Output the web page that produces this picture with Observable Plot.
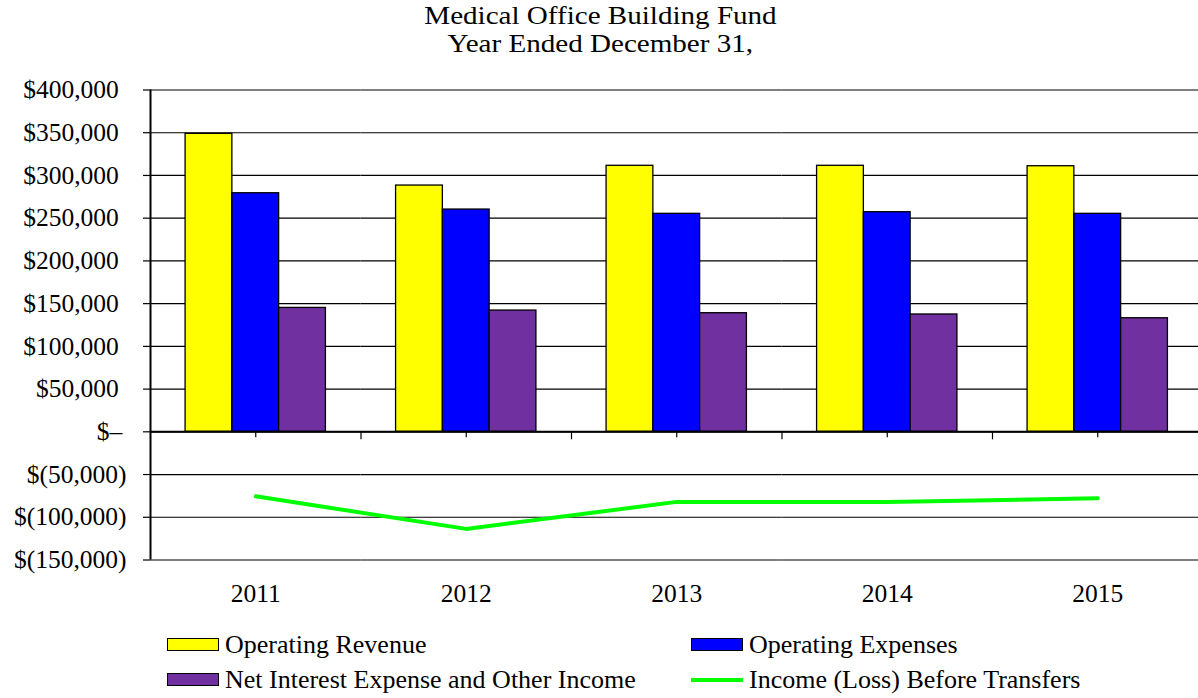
<!DOCTYPE html>
<html>
<head>
<meta charset="utf-8">
<script src="https://cdn.jsdelivr.net/npm/d3@7"></script>
<script src="https://cdn.jsdelivr.net/npm/@observablehq/plot@0.6"></script>
<style>
html, body { margin: 0; padding: 0; background: #fff; overflow: hidden; width: 1198px; height: 698px; }
body { position: relative; font-family: "Liberation Serif", "Times New Roman", serif; color: #000; }
#title { position: absolute; left: 0; top: 2.2px; width: 1200px; text-align: center; font-size: 25px; line-height: 27.8px; }
#title > div > span { display: inline-block; transform: scaleX(1.163); transform-origin: 50% 50%; white-space: nowrap; }
.layer { position: absolute; left: 0; top: 60px; }
.layer svg { max-width: none !important; background: transparent !important; overflow: visible; display: block; font-family: "Liberation Serif", "Times New Roman", serif !important; font-size: 25.5px !important; }
.layer svg text { font-family: "Liberation Serif", "Times New Roman", serif !important; }
#legend { position: absolute; left: 167px; top: 627px; display: grid; grid-template-columns: 524px auto; grid-auto-rows: 35px; font-size: 26px; }
.item { display: flex; align-items: center; line-height: 30px; white-space: nowrap; }
.sw { width: 52px; height: 13px; box-sizing: border-box; border: 1.5px solid #000; margin-right: 6px; flex: none; }
.ln { width: 52px; height: 4px; margin-right: 6px; flex: none; }
</style>
</head>
<body>
<div id="title"></div>
<div class="layer" id="bars"></div>
<div class="layer" id="overlay"></div>
<div id="legend"></div>
<script>
// ---- data ----
const titleLines = ["Medical Office Building Fund", "Year Ended December 31,"];
const years = [2011, 2012, 2013, 2014, 2015];
const seriesNames = ["Operating Revenue", "Operating Expenses", "Net Interest Expense and Other Income"];
const operatingRevenue = [348700, 288200, 311300, 311300, 310800];
const operatingExpenses = [279200, 260100, 255100, 257000, 255100];
const netInterestExpense = [145000, 141900, 138800, 137300, 132900];
const lineName = "Income (Loss) Before Transfers";
const incomeBeforeTransfers = [-75500, -113600, -82000, -82000, -77800];
const yTicks = [400000, 350000, 300000, 250000, 200000, 150000, 100000, 50000, 0, -50000, -100000, -150000];
const barColors = ["#FFFF00", "#0000FF", "#7030A0"];
const lineColor = "#00FF00";

// ---- title ----
const titleEl = document.getElementById("title");
for (const t of titleLines) {
  const row = document.createElement("div");
  const sp = document.createElement("span");
  sp.textContent = t;
  row.appendChild(sp);
  titleEl.appendChild(row);
}

// ---- layout ----
const W = 1203, H = 560, ML = 150, MR = 0.5, MT = 29.5, MB = 60.5;
const yDomain = [d3.min(yTicks), d3.max(yTicks)];
const baseStyle = { background: "transparent", maxWidth: "none", overflow: "visible" };

const seriesValues = [operatingRevenue, operatingExpenses, netInterestExpense];
const barData = years.flatMap((yr, i) => seriesNames.map((s, k) => ({ year: yr, series: s, value: seriesValues[k][i] })));
const lineData = years.map((yr, i) => ({ year: yr, value: incomeBeforeTransfers[i] }));

const fmtNum = d3.format(",");
const fmt = v => v === 0 ? "$\u2013" : v > 0 ? "$" + fmtNum(v) : "$(" + fmtNum(-v) + ")";

// bars + gridlines (faceted by year)
const barsPlot = Plot.plot({
  width: W, height: H, marginLeft: ML, marginRight: MR, marginTop: MT, marginBottom: MB,
  style: baseStyle,
  facet: { data: barData, x: "year" },
  fx: { domain: years, padding: 0, round: false, axis: null },
  x: { domain: seriesNames, paddingInner: 0, paddingOuter: 0.75, round: false, axis: null },
  y: { domain: yDomain, axis: null },
  color: { domain: seriesNames, range: barColors },
  marks: [
    Plot.ruleY(yTicks, { stroke: "#000", strokeWidth: 1.2 }),
    Plot.barY(barData, { x: "series", y: "value", fill: "series", stroke: "#000", strokeWidth: 1.3 })
  ]
});
document.getElementById("bars").appendChild(barsPlot);

// axes, ticks, labels and line
const x0 = years[0] - 0.5;
const boundaries = years.slice(1).map(yr => yr - 0.5);
const overlayPlot = Plot.plot({
  width: W, height: H, marginLeft: ML, marginRight: MR, marginTop: MT, marginBottom: MB,
  style: baseStyle,
  x: { type: "linear", domain: [years[0] - 0.5, years[years.length - 1] + 0.5], axis: null },
  y: { domain: yDomain, axis: null },
  marks: [
    Plot.ruleY(yTicks, { x1: x0, x2: x0, insetLeft: -7, stroke: "#000", strokeWidth: 1.2 }),
    Plot.ruleY([0], { stroke: "#000", strokeWidth: 2 }),
    Plot.ruleX([x0], { stroke: "#000", strokeWidth: 2 }),
    Plot.ruleX(years, { x: d => d, y1: 0, y2: 0, insetBottom: -6, stroke: "#000", strokeWidth: 1.2 }),
    Plot.ruleX(boundaries, { x: d => d, y1: 0, y2: 0, insetBottom: -8, stroke: "#000", strokeWidth: 1.2 }),
    Plot.line(lineData, { x: "year", y: "value", stroke: lineColor, strokeWidth: 4, strokeLinecap: "round", strokeLinejoin: "round" }),
    Plot.text(yTicks.filter(v => v > 0), { y: d => d, frameAnchor: "left", text: fmt, textAnchor: "end", dx: -31.7 }),
    Plot.text(yTicks.filter(v => v < 0), { y: d => d, frameAnchor: "left", text: fmt, textAnchor: "end", dx: -24 }),
    Plot.text(yTicks.filter(v => v === 0), { y: d => d, frameAnchor: "left", text: fmt, textAnchor: "end", dx: -28.3 }),
    Plot.text(years, { x: d => d, frameAnchor: "bottom", lineAnchor: "bottom", dy: 42.2, text: d => String(d) })
  ]
});
document.getElementById("overlay").appendChild(overlayPlot);

// legend
const legend = document.getElementById("legend");
const legendItems = [
  { name: seriesNames[0], color: barColors[0], kind: "bar" },
  { name: seriesNames[1], color: barColors[1], kind: "bar" },
  { name: seriesNames[2], color: barColors[2], kind: "bar" },
  { name: lineName, color: lineColor, kind: "line" }
];
for (const it of legendItems) {
  const item = document.createElement("div");
  item.className = "item";
  const sw = document.createElement("span");
  sw.className = it.kind === "bar" ? "sw" : "ln";
  sw.style.background = it.color;
  const label = document.createElement("span");
  label.textContent = it.name;
  item.appendChild(sw);
  item.appendChild(label);
  legend.appendChild(item);
}
</script>
</body>
</html>
